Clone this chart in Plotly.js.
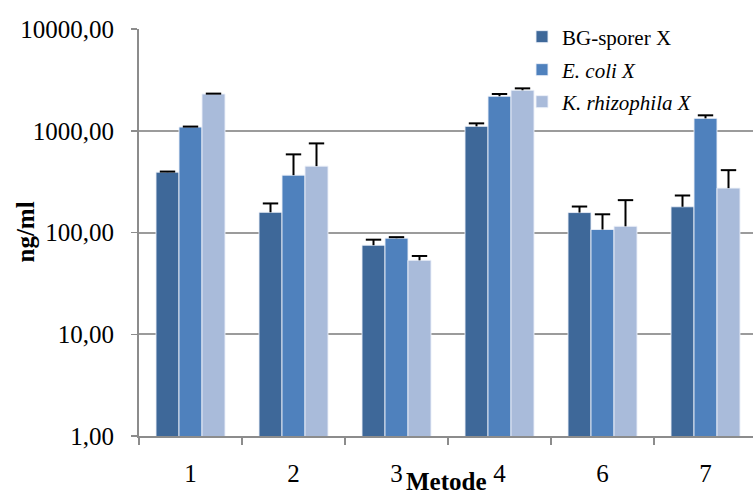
<!DOCTYPE html>
<html>
<head>
<meta charset="utf-8">
<script src="https://cdn.plot.ly/plotly-3.0.1.min.js"></script>
<style>html,body{margin:0;padding:0;background:#fff;}#chart{width:753px;height:497px;}</style>
</head>
<body>
<div id="chart"></div>
<script>
// ---- data ----
const categories = ['1', '2', '3', '4', '6', '7'];
const seriesNames = ['BG-sporer X', '<i>E. coli X</i>', '<i>K. rhizophila X</i>'];
const bgValues    = [392, 158, 75, 1105, 157, 179];
const bgErrors    = [5, 35, 10, 77, 23, 52];
const ecoliValues = [1087, 366, 88, 2183, 107, 1324];
const ecoliErrors = [12, 220, 2, 115, 44, 94];
const krhizValues = [2297, 449, 53.3, 2500, 115, 273];
const krhizErrors = [20, 302, 5.5, 110, 93, 137];
const yTickValues = [1, 10, 100, 1000, 10000];
const yTickLabels = ['1,00', '10,00', '100,00', '1000,00', '10000,00'];
const xTitle = 'Metode';
const yTitle = 'ng/ml';

// ---- styles ----
const colors = ['#3E6899', '#4F81BD', '#A9BBDA'];
const FONT = 'Liberation Serif';
const legendNames = ['legend', 'legend2', 'legend3'];

const values = [bgValues, ecoliValues, krhizValues];
const errors = [bgErrors, ecoliErrors, krhizErrors];

const traces = [];
values.forEach((vals, k) => {
  traces.push({
    type: 'bar',
    name: seriesNames[k],
    x: categories,
    y: vals,
    legend: legendNames[k],
    marker: { color: colors[k], line: { color: 'rgba(235,240,248,0.9)', width: 1 } },
    error_y: {
      type: 'data', symmetric: false,
      array: errors[k], arrayminus: errors[k].map(() => 0),
      color: '#000', thickness: 2, width: 0
    },
    hoverinfo: 'skip'
  });
});
// error-bar caps (upper only)
values.forEach((vals, k) => {
  traces.push({
    type: 'scatter',
    mode: 'markers',
    x: categories,
    y: vals.map((v, i) => v + errors[k][i]),
    showlegend: false,
    marker: { symbol: 'line-ew', size: 11, color: '#000', line: { color: '#000', width: 2 } },
    hoverinfo: 'skip'
  });
});

const plotL = 139, plotT = 29, plotW = 614, plotH = 407;
function lx(px) { return (px - plotL) / plotW; }
function ly(py) { return (plotT + plotH - py) / plotH; }
const legendCenters = [37, 70, 102];
function legendDef(k) {
  return {
    x: lx(522), y: ly(legendCenters[k]), xanchor: 'left', yanchor: 'middle',
    bgcolor: 'rgba(0,0,0,0)', borderwidth: 0,
    font: { family: FONT, size: 21, color: '#000' }
  };
}

const layout = {
  width: 753, height: 497,
  margin: { l: plotL, r: 0, t: plotT, b: 497 - plotT - plotH },
  paper_bgcolor: '#fff', plot_bgcolor: '#fff',
  barmode: 'group', bargap: 0.33, bargroupgap: 0,
  scattermode: 'group', scattergap: 0.33,
  font: { family: FONT, color: '#000' },
  showlegend: true,
  legend: legendDef(0), legend2: legendDef(1), legend3: legendDef(2),
  xaxis: {
    type: 'category',
    range: [-0.5, -0.5 + plotW / 103],
    showline: true, linecolor: '#8c8c8c', linewidth: 2,
    ticks: 'outside', tickson: 'boundaries', ticklen: 7, tickcolor: '#8c8c8c', tickwidth: 1.5,
    tickfont: { family: FONT, size: 25, color: '#000' },
    ticklabelstandoff: 14,
    showgrid: false, zeroline: false
  },
  yaxis: {
    type: 'log',
    range: [0, 4],
    tickvals: yTickValues, ticktext: yTickLabels,
    showline: true, linecolor: '#8c8c8c', linewidth: 2,
    ticks: 'outside', ticklen: 6, tickcolor: '#8c8c8c', tickwidth: 1.5,
    tickfont: { family: FONT, size: 25, color: '#000' },
    ticklabelstandoff: 12,
    showgrid: true, gridcolor: '#9b9b9b', gridwidth: 2,
    zeroline: false
  },
  annotations: [
    {
      text: '<b>' + xTitle + '</b>', xref: 'paper', yref: 'paper',
      x: 0.5, y: 0, xanchor: 'center', yanchor: 'bottom', yshift: -61,
      showarrow: false, font: { family: FONT, size: 25, color: '#000' }
    },
    {
      text: '<b>' + yTitle + '</b>', xref: 'paper', yref: 'paper',
      x: 0, y: 0.5, xanchor: 'center', yanchor: 'middle', xshift: -(plotL - 25),
      textangle: -90,
      showarrow: false, font: { family: FONT, size: 25, color: '#000' }
    }
  ]
};

Plotly.newPlot('chart', traces, layout, { staticPlot: true, displayModeBar: false });
</script>
</body>
</html>
